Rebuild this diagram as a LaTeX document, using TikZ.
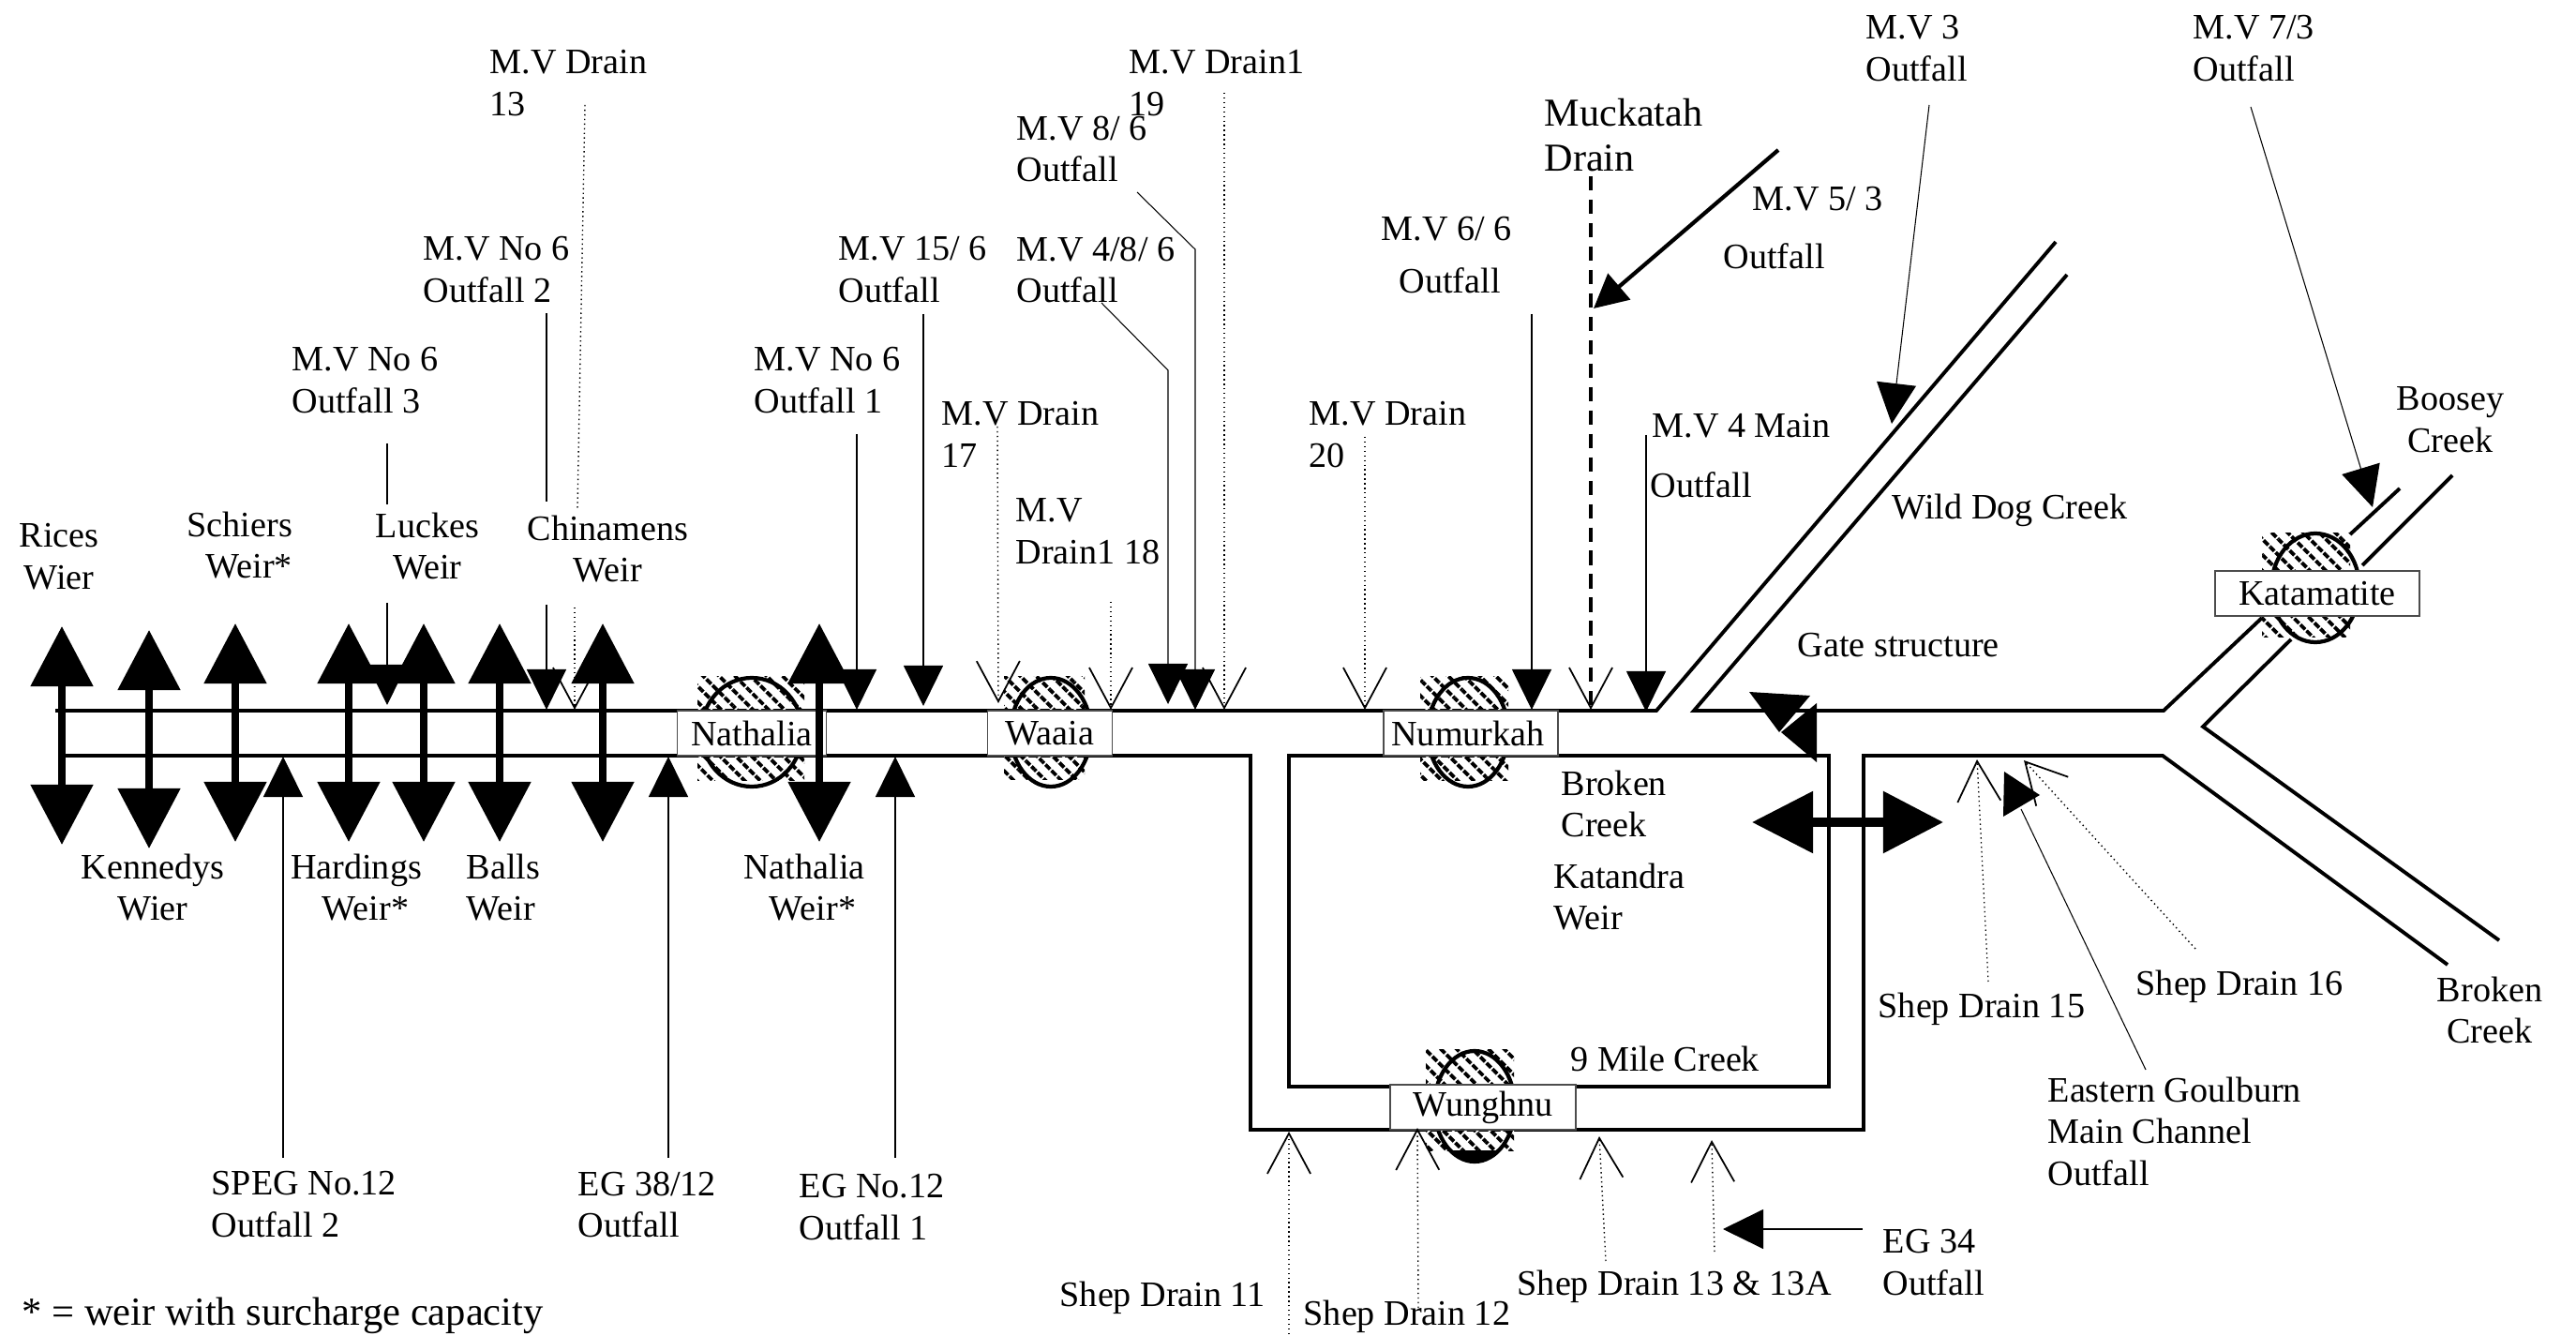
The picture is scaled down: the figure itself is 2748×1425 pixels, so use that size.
\documentclass[tikz,border=0pt]{standalone}
\usepackage{fontspec}
\setmainfont{Liberation Serif}
\usetikzlibrary{arrows.meta, patterns.meta}

\begin{document}
\begin{tikzpicture}[x=0.01cm, y=-0.01cm,
    river/.style={line width=1.1pt},
    weir/.style={line width=2.4pt, {Triangle[length=6.4mm,width=6.5mm]}-{Triangle[length=6.4mm,width=6.5mm]}},
    solidin/.style={line width=0.3pt, -{Triangle[length=4.3mm,width=4.2mm]}},
    openin/.style={line width=0.4pt, densely dotted, -{Straight Barb[length=4.3mm,width=4.6mm,line width=0.5pt]}},
    thinseg/.style={line width=0.3pt},
    dotseg/.style={line width=0.4pt, densely dotted},
    ring/.style={line width=1.2pt},
    hatchcell/.style={pattern={Lines[angle=-45,distance=3.4pt,line width=1.1pt]},
      postaction={pattern={Lines[angle=45,distance=2.6pt,line width=0.5pt]}, pattern color=white}},
    townbox/.style={draw=black!70, line width=0.4pt, fill=white, inner sep=0pt, minimum height=4.8mm, font=\fontsize{10.85}{12.7}\selectfont},
    lbl/.style={anchor=north west, inner sep=0pt, align=left, font=\fontsize{10.85}{12.7}\selectfont},
    lblc/.style={anchor=north, inner sep=0pt, align=center, font=\fontsize{10.85}{12.7}\selectfont}]
  \useasboundingbox (0,0) rectangle (2748,1425);

  % main channel and creeks
  \draw[river] (59,758)--(1767,758)--(2193,258);
  \draw[river] (66,806)--(1334,806)--(1334,1205)--(1988,1205)--(1988,806)--(2307,806)--(2611,1029);
  \draw[river] (1375,806)--(1951,806)--(1951,1159)--(1375,1159)--cycle;
  \draw[river] (2205,293)--(1807,758)--(2308,758)--(2413,659);
  \draw[river] (2507,570)--(2560,521);
  \draw[river] (2666,1003)--(2350,775)--(2444,682);
  \draw[river] (2520,603)--(2616,507);

  % towns: hatching and ring
  \fill[hatchcell] (744,722) rectangle (858,833);
  \draw[ring] (802,781) ellipse (54 and 58);
  \fill[hatchcell] (1071,722) rectangle (1157,832);
  \draw[ring] (1121,781) ellipse (43 and 58);
  \fill[hatchcell] (1515,722) rectangle (1609,833);
  \draw[ring] (1566,781) ellipse (43 and 58);
  \fill[hatchcell] (1521,1119) rectangle (1615,1227);
  \draw[ring] (1573,1180) ellipse (43 and 59);
  \begin{scope}
    \clip (1500,1227) rectangle (1650,1245);
    \fill (1573,1180) ellipse (43 and 59);
  \end{scope}
  \fill[hatchcell] (2413,569) rectangle (2507,680);
  \draw[ring] (2470,627) ellipse (47 and 58);

  % town names
  \node[townbox, minimum width=15.9mm] (nathalia) at (802,782) {Nathalia};
  \node[townbox, minimum width=13.3mm] (waaia) at (1120,782) {Waaia};
  \node[townbox, minimum width=18.6mm] (numurkah) at (1569,782) {\hspace*{-0.6mm}Numurkah};
  \node[townbox, minimum width=19.8mm] (wunghnu) at (1582,1181) {Wunghnu};
  \node[townbox, minimum width=21.8mm] (katamatite) at (2472,633) {Katamatite};

  % weirs
  \draw[weir] (66,668)--(66,901);
  \draw[weir] (159,672)--(159,905);
  \draw[weir] (251,665)--(251,898);
  \draw[weir] (372,665)--(372,898);
  \draw[weir] (452,665)--(452,898);
  \draw[weir] (533,665)--(533,898);
  \draw[weir] (643,665)--(643,898);
  \draw[weir] (874,665)--(874,898);
  \draw[line width=2.6pt, {Triangle[length=6.5mm,width=6.4mm]}-{Triangle[length=6.4mm,width=6.4mm]}] (1869,877)--(2073,877);

  % gate structure
  \fill (1866,738)--(1931,742)--(1898,781)--cycle;
  \fill (1938,750)--(1900,781)--(1938,813)--cycle;

  % solid inflows from above
  \draw[thinseg] (413,473)--(413,538);
  \draw[solidin] (413,643)--(413,752);
  \draw[line width=0.4pt] (583,334)--(583,535);
  \draw[solidin] (583,645)--(583,757);
  \draw[solidin] (914,463)--(914,757);
  \draw[solidin] (985,335)--(985,753);
  \draw[solidin] (1175,323)--(1246,395)--(1246,751);
  \draw[solidin] (1213,205)--(1275,266)--(1275,757);
  \draw[solidin] (1634,335)--(1634,757);
  \draw[solidin] (1756,464)--(1756,759);
  \draw[line width=1.2pt, -{Triangle[length=3.6mm,width=3.6mm]}] (1897,160)--(1700,329);
  \draw[solidin] (2058,112)--(2018,452);
  \draw[solidin] (2401,114)--(2531,541);

  % dotted inflows from above
  \draw[dotseg] (624,112)--(616,543);
  \draw[openin] (613,648)--(613,757);
  \draw[openin] (1064,455)--(1065,750);
  \draw[openin] (1185,642)--(1185,757);
  \draw[openin] (1306,99)--(1306,757);
  \draw[openin] (1456,466)--(1456,757);
  \draw[line width=1pt, dash pattern=on 4.3pt off 2.8pt, -{Straight Barb[length=4.3mm,width=4.6mm,line width=0.5pt]}] (1697,188)--(1697,757);

  % inflows from below
  \draw[solidin] (302,1235)--(302,807);
  \draw[solidin] (713,1235)--(713,807);
  \draw[solidin] (955,1235)--(955,807);
  \draw[openin] (1375,1423)--(1375,1207);
  \draw[openin] (1513,1395)--(1512,1203);
  \draw[openin] (1713,1345)--(1706,1212);
  \draw[openin] (1829,1335)--(1826,1216);
  \draw[solidin] (1987,1311)--(1838,1311);
  \draw[openin] (2121,1047)--(2109,810);
  \draw[openin] (2342,1012)--(2159,811);
  \draw[thinseg] (2289,1141)--(2156,863);
  \fill (2138,823)--(2137,871)--(2176,848)--cycle;

  % labels above the channel
  \node[lbl] (drainb) at (522,53) {M.V Drain\\13};
  \node[lbl] (drains) at (1204,53) {M.V Drain1\\19};
  \node[lbl] (mveight) at (1084,123) {M.V 8/ 6\\Outfall};
  \node[lbl] (mvsixb) at (451,252) {M.V No 6\\Outfall 2};
  \node[lbl] (mvfifteen) at (894,252) {M.V 15/ 6\\Outfall};
  \node[lbl] (mvfour) at (1084,252) {M.V 4/8/ 6\\Outfall};
  \node[lbl] (mvsixc) at (311,370) {M.V No 6\\Outfall 3};
  \node[lbl] (mvsixa) at (804,370) {M.V No 6\\Outfall 1};
  \node[lbl] (drainc) at (1004,428) {M.V Drain\\17};
  \node[lbl] (draint) at (1396,428) {M.V Drain\\20};
  \node[lbl] (drainr) at (1083,531) {M.V\\Drain1 18};
  \node[lbl, font=\fontsize{12}{13.6}\selectfont] (muckatah) at (1647,105) {Muckatah\\Drain};
  \node[lbl] (mvfive) at (1869,199) {M.V 5/ 3};
  \node[lbl] (mvfiveo) at (1838,259) {Outfall};
  \node[lbl] (mvsix) at (1473,231) {M.V 6/ 6};
  \node[lbl] (mvsixo) at (1492,285) {Outfall};
  \node[lbl] (mvthree) at (1990,16) {M.V 3\\Outfall};
  \node[lbl] (mvseven) at (2339,16) {M.V 7/3\\Outfall};
  \node[lbl] (mvmain) at (1762,441) {M.V 4 Main};
  \node[lbl] (mvmaino) at (1760,503) {Outfall};
  \node[lblc] (boosey) at (2614,412) {Boosey\\Creek};
  \node[lbl] (wilddog) at (2018,526) {Wild Dog Creek};
  \node[lbl] (gate) at (1917,675) {Gate structure};

  % weir names
  \node[lblc] (rices) at (63,558) {Rices\\Wier};
  \node[lbl, align=right] (schiers) at (199,545) {Schiers\\Weir*};
  \node[lblc] (luckes) at (456,546) {Luckes\\Weir};
  \node[lbl] (chinamens) at (562,549) {Chinamens\\\hspace*{4.9mm}Weir};
  \node[lblc] (kennedys) at (163,910) {Kennedys\\Wier};
  \node[lblc] (hardings) at (380,910) {Hardings\\\hspace*{2mm}Weir*};
  \node[lbl] (balls) at (497,910) {Balls\\Weir};
  \node[lblc] (nathaliaw) at (858,910) {Nathalia\\\hspace*{1.8mm}Weir*};
  \node[lbl] (brokeni) at (1665,821) {Broken\\Creek};
  \node[lbl] (katandra) at (1657,920) {Katandra\\Weir};
  \node[lbl] (ninemile) at (1675,1115) {9 Mile Creek};

  % labels below the channel
  \node[lbl] (speg) at (225,1249) {SPEG No.12\\Outfall 2};
  \node[lbl] (egb) at (616,1249) {EG 38/12\\Outfall};
  \node[lbl] (ega) at (852,1252) {EG No.12\\Outfall 1};
  \node[lbl] (shepa) at (1130,1366) {Shep Drain 11};
  \node[lbl] (shepb) at (1390,1386) {Shep Drain 12};
  \node[lbl] (shepc) at (1618,1354) {Shep Drain 13 \& 13A};
  \node[lbl] (egc) at (2008,1311) {EG 34\\Outfall};
  \node[lbl] (shepd) at (2003,1058) {Shep Drain 15};
  \node[lbl] (shepe) at (2278,1034) {Shep Drain 16};
  \node[lbl] (eastern) at (2184,1148) {Eastern Goulburn\\Main Channel\\Outfall};
  \node[lblc] (brokeno) at (2656,1041) {Broken\\Creek};
  \node[lbl, font=\fontsize{12.1}{14}\selectfont] (note) at (23,1383) {* = weir with surcharge capacity};
\end{tikzpicture}
\end{document}
